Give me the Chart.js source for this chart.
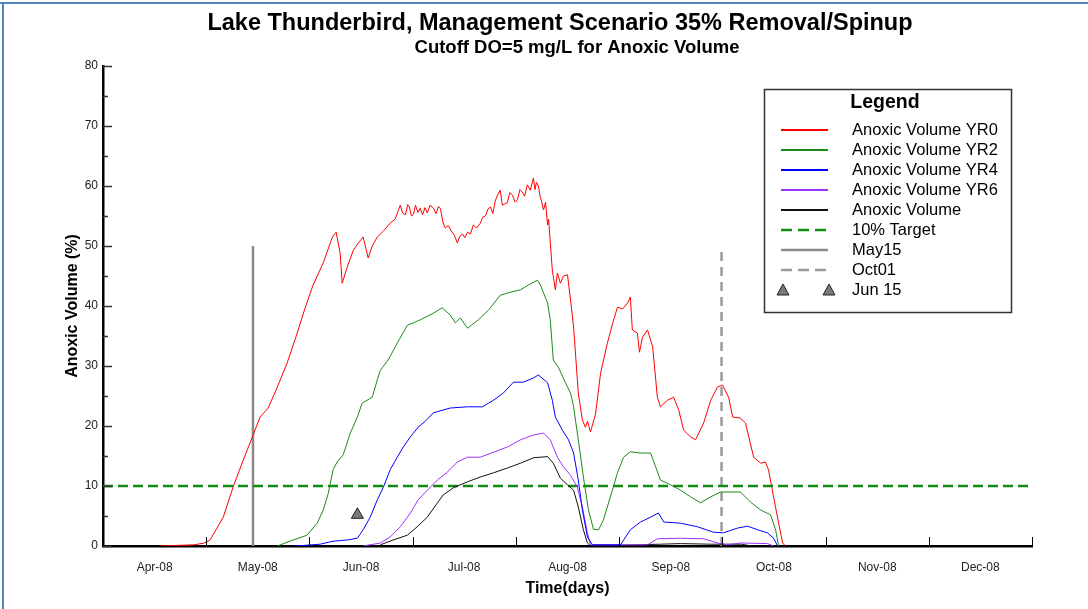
<!DOCTYPE html>
<html>
<head>
<meta charset="utf-8">
<script src="https://cdn.jsdelivr.net/npm/chart.js@4.4.1/dist/chart.umd.min.js"></script>
<style>
  body { margin: 0; background: #fff; }
  #wrap { position: relative; width: 1088px; height: 609px; }
  #frameTop { position: absolute; left: 0; top: 2px; width: 1088px; height: 2px; background: #5583c0; }
  #frameLeft { position: absolute; left: 2px; top: 2px; width: 2px; height: 607px; background: #5583c0; }
</style>
</head>
<body>
<div id="wrap">
  <canvas id="chart" width="1088" height="609"></canvas>
  <div id="frameTop"></div>
  <div id="frameLeft"></div>
</div>
<script>
// x values are days counted from Apr 1 2008
const monthLabels = ['Apr-08', 'May-08', 'Jun-08', 'Jul-08', 'Aug-08', 'Sep-08', 'Oct-08', 'Nov-08', 'Dec-08']
const monthLabelDays = [15.3, 45.8, 76.4, 106.9, 137.5, 168.1, 198.6, 229.2, 259.7]
const xTickDays = [0, 30.6, 61.1, 91.7, 122.2, 152.8, 183.3, 213.9, 244.4, 275]
const yMinorTicks = [5, 15, 25, 35, 45, 55, 65, 75]

// [day, anoxic volume %]
const yr0 = [[17,0],[27,0.2],[30,0.5],[31.7,1],[35.6,4.8],[38.5,9.8],[41.5,14.3],[44.1,18],[46.5,21.5],[48.9,23],[51.6,26.5],[54.5,30.5],[57.5,35.5],[59.9,39.8],[62.2,43.5],[65.2,47.2],[67.9,51.5],[69,52.3],[70.2,48.8],[70.8,43.8],[72.3,46.5],[74.1,49.3],[75.6,50.5],[77,51.5],[78.5,48],[79.7,50],[81.2,51.5],[83,52.5],[85,53.8],[86.5,54.5],[87.2,55.6],[88,56.8],[88.7,55.5],[89.5,55.2],[90.2,56.9],[90.7,56.5],[91.3,55],[91.9,55.3],[92.5,56.8],[93.2,55.6],[93.9,56.3],[94.6,55.2],[95.3,56.4],[96,55.5],[96.8,56.8],[97.8,56.3],[98.6,55.4],[99.3,56.6],[99.9,56.2],[100.6,54],[101.3,53],[102.2,53.4],[103.1,52.5],[104,51.8],[104.9,50.5],[105.6,51.6],[106.4,52],[107.1,51.4],[107.9,52.3],[108.8,52],[109.6,53.5],[110.6,53],[111.7,53.8],[112.4,54.8],[113.2,55],[114,56.2],[114.7,56.5],[115.4,55.4],[116.1,57.5],[116.8,58.5],[117.6,59.3],[118.2,56.8],[118.8,57],[119.7,57.2],[120.4,58.9],[121.2,58.5],[122,57.3],[122.7,57.7],[123.4,59.4],[124.1,59],[124.8,58.3],[125.6,60.2],[126.5,59.3],[127.4,61.3],[127.9,59.4],[128.3,60.6],[128.9,60],[129.4,58.2],[129.8,57.5],[130.4,56],[131,57.3],[131.6,53.5],[131.9,54.5],[133,46],[133.9,42.7],[134.5,45.5],[135.4,43.8],[136.3,45],[137.5,45.2],[138.4,41],[139.3,36.5],[140.7,25.5],[141.9,21],[142.8,19.8],[143.4,20.8],[144.3,19],[145.8,22],[147.3,28.8],[149.3,33.8],[150.8,37],[152.3,39.8],[153.8,39.5],[155.3,40.5],[156.1,41.5],[156.7,36],[158.2,35.5],[158.8,32.3],[159.7,34.8],[161.2,36],[162.7,33.2],[164.1,24.8],[165,23.2],[167.1,24.3],[168.9,24.8],[170.4,22.7],[171.9,19.3],[173.9,18.2],[175.4,17.7],[177.8,20.5],[179.9,24.3],[181.9,26.5],[183.4,26.8],[185.2,24.8],[186.4,21.5],[188.7,21.3],[190.2,20.5],[192.6,14.8],[194.7,13.8],[196.1,14],[197,12.7],[198.5,8.2],[200,3.8],[201.2,0.5],[202,0]]
const yr2 = [[51.6,0],[56.3,1],[60.4,1.8],[63.4,3.8],[65.2,6],[66.7,8.8],[68.1,12.7],[69.3,14],[71.1,15.2],[73.2,18.8],[75.3,21.5],[76.7,23.8],[79.7,24.8],[81.2,27.7],[82.1,29.3],[84.4,31],[87.1,33.8],[90.1,36.8],[91.9,37.2],[93.9,37.7],[97.8,38.8],[100.4,39.7],[102.8,38.5],[104.3,37.2],[105.8,38],[107.9,36.3],[111.1,37.7],[114.1,39.3],[117.6,41.8],[120.6,42.3],[123.6,42.7],[125.9,43.5],[128.6,44.3],[129.5,43.5],[130.4,42.2],[131.6,40.5],[132.4,37.7],[133.3,31],[134.8,29.8],[136.9,27.2],[138.4,25.5],[139.3,23.2],[140.7,17.7],[142.2,11.5],[143.7,6],[145.2,2.8],[146.7,2.7],[148.1,4.3],[150.2,8.2],[152.3,12.2],[154.1,14.8],[156.1,15.7],[159.1,15.5],[162.1,15.5],[163.6,13.2],[165,11],[168,10.2],[171,9.3],[173.9,8.2],[176.9,7.2],[179.9,8.2],[182.8,9],[185.8,9],[188.7,9],[191.7,7.3],[194.7,6],[197.6,5.2],[199.1,2.7],[200,0]]
const yr4 = [[56.9,0],[64.3,0.3],[68.1,0.8],[72.3,1],[75.3,1.3],[77,2.7],[79.1,4.8],[81.2,7.7],[83,9.8],[85,12.7],[87.1,14.8],[88.9,16.5],[91,18.2],[93.3,19.8],[95.4,20.8],[97.8,22.2],[102.8,23],[107.9,23.2],[112.3,23.2],[115.6,24.3],[118.5,25.5],[121.5,27.3],[124.4,27.3],[127.4,28],[128.9,28.5],[131.6,27.2],[133,24.3],[133.9,21.5],[136,19.3],[137.8,17.7],[139.3,15.5],[140.7,11],[141.9,6],[143.4,1.5],[144.9,0.2],[153.2,0.2],[156.1,2.7],[159.1,4],[162.1,4.8],[164.4,5.5],[166,4],[171,3.8],[176,3.2],[180.7,2.3],[183.7,2.2],[187.9,3],[190.8,3.3],[193.8,2.7],[196.7,2.2],[198.5,1.3],[199.7,0]]
const yr6 = [[77,0],[82.1,0.5],[85,1.5],[88,3.2],[91,5.5],[93.3,7.7],[96,9.3],[99,11],[101.9,12.3],[104.9,14],[107.9,14.8],[111.7,14.8],[115.9,15.7],[119.7,16.5],[123.6,17.7],[127.4,18.5],[130.4,18.8],[132.4,17.7],[134.5,14.8],[136.3,13.2],[138.4,11.8],[140.4,9.8],[141.9,6.5],[143.4,2.2],[144.3,0.2],[161.2,0.2],[164.1,1.2],[171,1.3],[177.8,1.2],[181.9,0.5],[184.9,0.2],[188.7,0.5],[196.7,0.4],[198.5,0]]
const current = [[82.1,0.2],[85.9,1],[90.1,1.8],[93,3.2],[96,4.8],[99,7.2],[100.7,8.5],[103.7,9.7],[107.9,10.7],[111.7,11.5],[115.6,12.2],[119.7,13],[123.6,13.8],[127.4,14.7],[131.6,14.9],[133.3,13.8],[135.4,11.3],[137.5,10.2],[139.3,9.3],[140.7,6.5],[142.2,2.7],[143.4,0.5],[144.3,0],[165,0.3],[171,0.4],[180,0.3],[189,0.3],[192,0]]

const targetLevel = 10
const may15Day = 44.4
const oct01Day = 183.1
const markerTop = 50
const jun15Point = [75.3, 5.2]

const FONT = "'Liberation Sans', Arial, sans-serif"

function pts(arr) {
    return arr.map(p => ({ x: p[0], y: p[1] }))
}

function series(label, arr, color) {
    return { label: label, data: pts(arr), borderColor: color, backgroundColor: color, borderWidth: 1, pointRadius: 0, tension: 0 }
}

const datasets = [
    series('Anoxic Volume YR0', yr0, '#ff0000'),
    series('Anoxic Volume YR2', yr2, '#1a8a1a'),
    series('Anoxic Volume YR4', yr4, '#0000ff'),
    series('Anoxic Volume YR6', yr6, '#9933ff'),
    series('Anoxic Volume', current, '#111111'),
    { label: '10% Target', data: [{ x: 0, y: targetLevel }, { x: 275, y: targetLevel }], borderColor: '#108a10', borderWidth: 2.5, borderDash: [10, 5], pointRadius: 0 },
    { label: 'May15', data: [{ x: may15Day, y: 0 }, { x: may15Day, y: markerTop }], borderColor: '#8a8a8a', borderWidth: 2.5, pointRadius: 0 },
    { label: 'Oct01', data: [{ x: oct01Day, y: 0 }, { x: oct01Day, y: markerTop }], borderColor: '#9a9a9a', borderWidth: 2.5, borderDash: [9, 6], pointRadius: 0 },
    { label: 'Jun 15', data: [{ x: jun15Point[0], y: jun15Point[1] }], showLine: false, pointStyle: 'triangle', pointRadius: 7, backgroundColor: '#7a7a7a', borderColor: '#222', borderWidth: 1 }
]

// titles, inward tick marks and the boxed legend
const decorations = {
    id: 'decorations',
    afterDraw(chart) {
        const ctx = chart.ctx
        const xs = chart.scales.x, ys = chart.scales.y
        const area = chart.chartArea
        ctx.save()

        ctx.fillStyle = '#000'
        ctx.textAlign = 'center'
        ctx.textBaseline = 'middle'
        ctx.font = 'bold 23.5px ' + FONT
        ctx.fillText('Lake Thunderbird, Management Scenario 35% Removal/Spinup', 560, 24)
        ctx.font = 'bold 18.5px ' + FONT
        ctx.fillText('Cutoff DO=5 mg/L for Anoxic Volume', 577, 48)

        // y ticks point into the plot
        ctx.strokeStyle = '#333'
        ctx.lineWidth = 1.5
        ys.ticks.forEach(t => {
            const y = Math.round(ys.getPixelForValue(t.value)) + 0.5
            ctx.beginPath(); ctx.moveTo(area.left, y); ctx.lineTo(area.left + 9, y); ctx.stroke()
        })
        yMinorTicks.forEach(v => {
            const y = Math.round(ys.getPixelForValue(v)) + 0.5
            ctx.beginPath(); ctx.moveTo(area.left, y); ctx.lineTo(area.left + 5, y); ctx.stroke()
        })
        ctx.strokeStyle = '#000'
        ctx.lineWidth = 1
        xTickDays.forEach(v => {
            const x = Math.round(xs.getPixelForValue(v)) + 0.5
            ctx.beginPath(); ctx.moveTo(x, area.bottom); ctx.lineTo(x, area.bottom - 9); ctx.stroke()
        })

        // legend
        const bx = 764, by = 89, bw = 247, bh = 223
        ctx.fillStyle = '#fff'
        ctx.fillRect(bx, by, bw, bh)
        ctx.strokeStyle = '#333'
        ctx.lineWidth = 1.5
        ctx.strokeRect(bx + 0.5, by + 0.5, bw, bh)
        ctx.fillStyle = '#000'
        ctx.font = 'bold 19.5px ' + FONT
        ctx.fillText('Legend', 885, 103)
        ctx.font = '16.5px ' + FONT
        ctx.textAlign = 'left'
        chart.data.datasets.forEach((ds, i) => {
            const y = 130 + i * 20
            if (ds.showLine === false) {
                [783, 829].forEach(px => {
                    ctx.beginPath()
                    ctx.moveTo(px, y - 6); ctx.lineTo(px + 6, y + 5); ctx.lineTo(px - 6, y + 5); ctx.closePath()
                    ctx.fillStyle = ds.backgroundColor; ctx.fill()
                    ctx.strokeStyle = ds.borderColor; ctx.lineWidth = 1; ctx.stroke()
                })
            } else {
                ctx.strokeStyle = ds.borderColor
                ctx.lineWidth = Math.max(2, ds.borderWidth)
                ctx.setLineDash(ds.borderDash ? [11, 6] : [])
                ctx.beginPath(); ctx.moveTo(781, y); ctx.lineTo(828, y); ctx.stroke()
                ctx.setLineDash([])
            }
            ctx.fillStyle = '#000'
            ctx.fillText(ds.label, 852, y)
        })
        ctx.restore()
    }
}

new Chart(document.getElementById('chart'), {
    type: 'line',
    data: { datasets: datasets },
    options: {
        responsive: false,
        devicePixelRatio: 1,
        animation: false,
        layout: { padding: { top: 66, right: 56, bottom: 0, left: 63 } },
        plugins: { legend: { display: false }, tooltip: { enabled: false } },
        scales: {
            x: {
                type: 'linear',
                min: 0,
                max: 275,
                afterBuildTicks: s => { s.ticks = monthLabelDays.map(v => ({ value: v })) },
                afterFit: s => { s.height = 63 },
                grid: { display: false, drawTicks: false },
                border: { display: true, color: '#000', width: 2.5 },
                ticks: {
                    autoSkip: false,
                    maxRotation: 0,
                    padding: 14,
                    color: '#222',
                    font: { family: FONT, size: 12 },
                    callback: (v, i) => monthLabels[i]
                },
                title: { display: true, text: 'Time(days)', color: '#000', font: { family: FONT, size: 16, weight: 'bold' }, padding: { top: 0, bottom: 11 } }
            },
            y: {
                min: 0,
                max: 80,
                afterFit: s => { s.width = 40 },
                grid: { display: false, drawTicks: false },
                border: { display: true, color: '#000', width: 2.5 },
                ticks: { stepSize: 10, padding: 5, color: '#222', font: { family: FONT, size: 12 } },
                title: { display: true, text: 'Anoxic Volume (%)', color: '#000', font: { family: FONT, size: 16, weight: 'bold' }, padding: { top: 0, bottom: 0 } }
            }
        }
    },
    plugins: [decorations]
})
</script>
</body>
</html>
